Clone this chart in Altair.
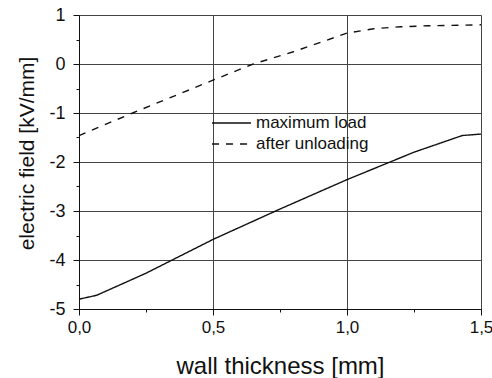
import altair as alt
import pandas as pd

# wall thickness [mm] and electric field [kV/mm] for each loading state
x_max_load = [0.0, 0.066, 0.25, 0.5, 0.75, 1.0, 1.25, 1.43, 1.5]
y_max_load = [-4.80, -4.72, -4.27, -3.58, -2.96, -2.36, -1.80, -1.46, -1.43]

x_unload = [0.0, 0.2, 0.5, 0.65, 0.8, 1.0, 1.1, 1.2, 1.3, 1.5]
y_unload = [-1.46, -1.0, -0.33, 0.0, 0.25, 0.63, 0.72, 0.76, 0.78, 0.80]

series_names = ["maximum load", "after unloading"]
series_dash = [[1, 0], [7, 7]]

x_ticks = [0.0, 0.25, 0.5, 0.75, 1.0, 1.25, 1.5]
y_ticks = [-5, -4.5, -4, -3.5, -3, -2.5, -2, -1.5, -1, -0.5, 0, 0.5, 1]

rows = []
for i, (xs, ys) in enumerate([(x_max_load, y_max_load), (x_unload, y_unload)]):
    for k, (xv, yv) in enumerate(zip(xs, ys)):
        rows.append({"x": xv, "y": yv, "series": series_names[i], "order": k})
df = pd.DataFrame(rows)
legend_df = pd.DataFrame({"series": series_names})

FONT = "Liberation Sans"
INK = "#111"
minor_x = "abs(datum.value*2 - round(datum.value*2)) > 0.01"
minor_y = "abs(datum.value - round(datum.value)) > 0.01"

x_axis = alt.Axis(
    values=x_ticks,
    title="wall thickness [mm]",
    titleFont=FONT, titleFontSize=24, titleFontWeight="normal", titleColor=INK,
    titleBaseline="alphabetic", titleY=64,
    labelFont=FONT, labelFontSize=17, labelColor=INK, labelPadding=4,
    labelFlush=False, labelOverlap=False,
    labelExpr=f"({minor_x}) ? '' : replace(format(datum.value, '.1f'), '.', ',')",
    tickSize={"condition": {"test": minor_x, "value": 3}, "value": 6},
    tickColor=INK, domainColor=INK, domainWidth=1,
    grid=True, gridColor="#444", gridWidth=1,
    gridOpacity={"condition": {"test": minor_x, "value": 0}, "value": 1},
)

y_axis = alt.Axis(
    values=y_ticks,
    title="electric field [kV/mm]",
    titleFont=FONT, titleFontSize=21, titleFontWeight="normal", titleColor=INK,
    titleX=-42, titleY=138,
    labelFont=FONT, labelFontSize=18, labelColor=INK, labelPadding=8,
    labelFlush=False, labelOverlap=False,
    labelExpr=f"({minor_y}) ? '' : toString(datum.value)",
    tickSize={"condition": {"test": minor_y, "value": 3}, "value": 6},
    tickColor=INK, domainColor=INK, domainWidth=1,
    grid=True, gridColor="#444", gridWidth=1,
    gridOpacity={"condition": {"test": minor_y, "value": 0}, "value": 1},
)

lines = (
    alt.Chart(df)
    .mark_line(color=INK, strokeWidth=1.4)
    .encode(
        x=alt.X("x:Q", scale=alt.Scale(domain=[0, 1.5], nice=False, zero=False), axis=x_axis),
        y=alt.Y("y:Q", scale=alt.Scale(domain=[-5, 1], nice=False, zero=False), axis=y_axis),
        strokeDash=alt.StrokeDash(
            "series:N",
            scale=alt.Scale(domain=series_names, range=series_dash),
            legend=None,
        ),
        order="order:Q",
    )
)

# key drawn inside the plot: one sample line and one label per series
key_layers = []
for i, name in enumerate(series_names):
    row_y = 108 + 21 * i
    sel = alt.Chart(legend_df).transform_filter(alt.datum.series == name)
    key_layers.append(
        sel.mark_rule(color=INK, strokeWidth=1.4, strokeDash=series_dash[i]).encode(
            x=alt.value(133), x2=alt.value(172), y=alt.value(row_y)
        )
    )
    key_layers.append(
        sel.mark_text(
            font=FONT, fontSize=17, color=INK, align="left", baseline="middle"
        ).encode(x=alt.value(177), y=alt.value(row_y), text="series:N")
    )

chart = (
    alt.layer(lines, *key_layers)
    .properties(
        width=402, height=294,
        autosize=alt.AutoSizeParams(type="none"),
        padding={"left": 79, "top": 15, "right": 11, "bottom": 69},
    )
    .configure_view(stroke=INK, strokeWidth=1)
    .configure(background="white")
)

chart.save("out.html", embed_options={"renderer": "svg", "actions": False})
